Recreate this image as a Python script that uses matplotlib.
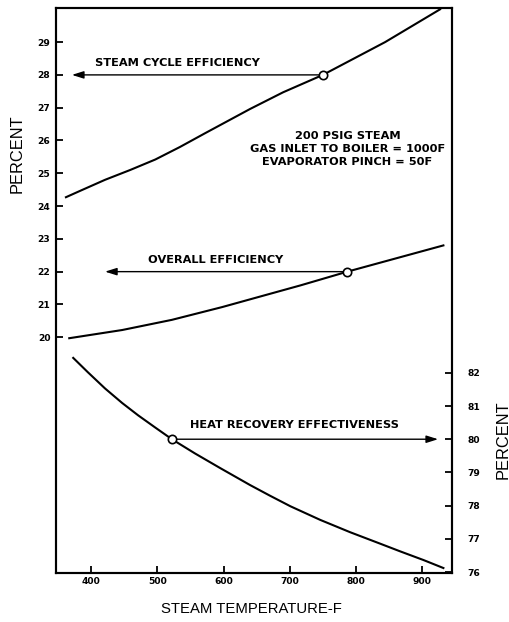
import matplotlib
matplotlib.use("Agg")
import matplotlib.pyplot as plt

# ---- data ----
steam_T = [362, 383, 421, 459, 497, 534, 572, 640, 690, 750, 844, 927]
steam_P = [24.27, 24.46, 24.80, 25.10, 25.42, 25.80, 26.22, 26.96, 27.47, 28.0, 29.0, 30.0]

overall_T = [367, 447, 522, 598, 648, 716, 787, 932]
overall_P = [19.97, 20.22, 20.53, 20.92, 21.2, 21.58, 22.0, 22.8]

hr_T = [373, 395, 421, 447, 471, 497, 522, 557, 595, 640, 670, 701, 746, 791, 837, 867, 902, 932]
hr_P = [82.45, 82.02, 81.53, 81.09, 80.72, 80.35, 80.0, 79.57, 79.13, 78.62, 78.3,
        77.98, 77.57, 77.2, 76.85, 76.62, 76.36, 76.12]

x_ticks = [400, 500, 600, 700, 800, 900]
left_ticks = [20, 21, 22, 23, 24, 25, 26, 27, 28, 29]
right_ticks = [76, 77, 78, 79, 80, 81, 82]

steam_mark = (750, 28.0)
steam_arrow_to = 371
overall_mark = (787, 22.0)
overall_arrow_to = 421
hr_mark = (522, 80.0)
hr_arrow_to = 924

W, H = 510, 622
fig = plt.figure(figsize=(W / 100, H / 100), dpi=100)
L, R, B, T = 56, 452, 573, 8
ax = fig.add_axes([L / W, 1 - B / H, (R - L) / W, (B - T) / H])
ax2 = ax.twinx()

ax.set_xlim(347, 945)
ax.set_ylim(12.81, 30.04)
ax2.set_ylim(75.97, 92.99)

lw = 1.5
col = "black"
ax.plot(steam_T, steam_P, color=col, lw=lw, solid_joinstyle="round")
ax.plot(overall_T, overall_P, color=col, lw=lw, solid_joinstyle="round")
ax2.plot(hr_T, hr_P, color=col, lw=lw, solid_joinstyle="round")

mk = dict(marker="o", ms=6, mfc="white", mec=col, mew=1.2, zorder=5)
ax.plot(*steam_mark, **mk)
ax.plot(*overall_mark, **mk)
ax2.plot(*hr_mark, **mk)

ap = dict(arrowstyle="-|>,head_length=0.7,head_width=0.22", color=col, lw=1.0,
          shrinkA=3, shrinkB=0)
ax.annotate("", xy=(steam_arrow_to, steam_mark[1]), xytext=steam_mark, arrowprops=ap, zorder=4)
ax.annotate("", xy=(overall_arrow_to, overall_mark[1]), xytext=overall_mark, arrowprops=ap, zorder=4)
ax2.annotate("", xy=(hr_arrow_to, hr_mark[1]), xytext=hr_mark, arrowprops=ap, zorder=4)

bf = dict(family="DejaVu Sans", weight="bold", fontsize=8.2, color=col)
ax.text(406, 28.36, "STEAM CYCLE EFFICIENCY", ha="left", va="center", **bf)
ax.text(486, 22.35, "OVERALL EFFICIENCY", ha="left", va="center", **bf)
ax2.text(550, 80.43, "HEAT RECOVERY EFFECTIVENESS", ha="left", va="center", **bf)
ax.text(787, 25.74, "200 PSIG STEAM\nGAS INLET TO BOILER = 1000F\nEVAPORATOR PINCH = 50F",
        ha="center", va="center", linespacing=1.35, **bf)

ax.set_xticks(x_ticks)
ax.set_yticks(left_ticks)
ax2.set_yticks(right_ticks)
tf = dict(family="DejaVu Sans", weight="bold", size=6.6)
ax.set_xticklabels([str(v) for v in x_ticks], **tf)
ax.set_yticklabels([str(v) for v in left_ticks], **tf)
ax2.set_yticklabels([str(v) for v in right_ticks], **tf)

ax.tick_params(axis="both", direction="in", length=5, width=1.3, pad=3)
ax.tick_params(axis="y", pad=4)
ax2.tick_params(axis="y", direction="in", length=5, width=1.3, pad=11)

for a in (ax, ax2):
    for s in a.spines.values():
        s.set_linewidth(1.5)

lf = dict(family="Liberation Sans", color=col)
fig.text(17 / W, 1 - 154 / H, "PERCENT", rotation=90, ha="center", va="center", fontsize=11.8, **lf)
fig.text(503 / W, 1 - 440 / H, "PERCENT", rotation=90, ha="center", va="center", fontsize=11.8, **lf)
fig.text(251 / W, 1 - 609 / H, "STEAM TEMPERATURE-F", ha="center", va="center", fontsize=10.7, **lf)

fig.savefig("out.png", dpi=100)
